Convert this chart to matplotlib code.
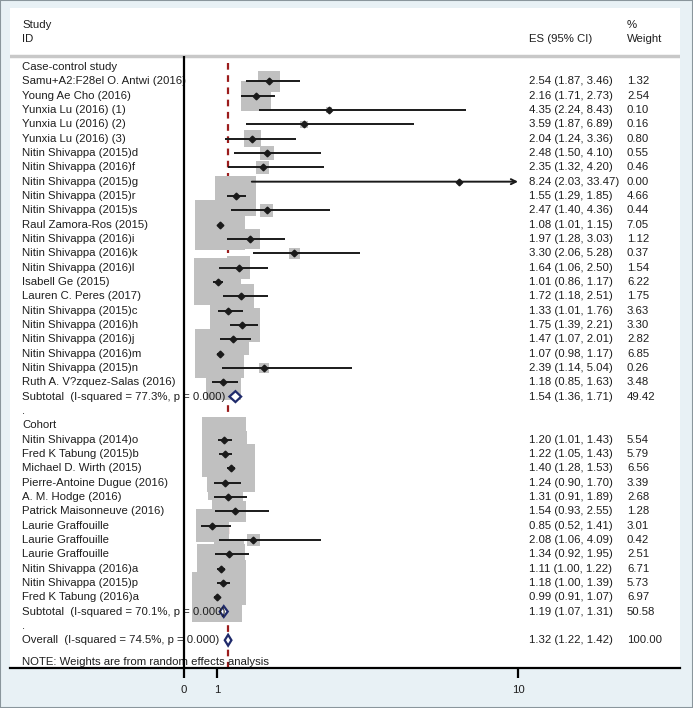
import numpy as np
import matplotlib
matplotlib.use("Agg")
import matplotlib.pyplot as plt
from matplotlib.patches import Rectangle

plt.rcParams['font.family'] = ['Liberation Sans', 'DejaVu Sans']

# case-control studies
cc_names = ["Samu+A2:F28el O. Antwi (2016)", "Young Ae Cho (2016)", "Yunxia Lu (2016) (1)",
            "Yunxia Lu (2016) (2)", "Yunxia Lu (2016) (3)", "Nitin Shivappa (2015)d",
            "Nitin Shivappa (2016)f", "Nitin Shivappa (2015)g", "Nitin Shivappa (2015)r",
            "Nitin Shivappa (2015)s", "Raul Zamora-Ros (2015)", "Nitin Shivappa (2016)i",
            "Nitin Shivappa (2016)k", "Nitin Shivappa (2016)l", "Isabell Ge (2015)",
            "Lauren C. Peres (2017)", "Nitin Shivappa (2015)c", "Nitin Shivappa (2016)h",
            "Nitin Shivappa (2016)j", "Nitin Shivappa (2016)m", "Nitin Shivappa (2015)n",
            "Ruth A. V?zquez-Salas (2016)"]
cc_es = [2.54, 2.16, 4.35, 3.59, 2.04, 2.48, 2.35, 8.24, 1.55, 2.47, 1.08, 1.97, 3.30,
         1.64, 1.01, 1.72, 1.33, 1.75, 1.47, 1.07, 2.39, 1.18]
cc_lo = [1.87, 1.71, 2.24, 1.87, 1.24, 1.50, 1.32, 2.03, 1.29, 1.40, 1.01, 1.28, 2.06,
         1.06, 0.86, 1.18, 1.01, 1.39, 1.07, 0.98, 1.14, 0.85]
cc_hi = [3.46, 2.73, 8.43, 6.89, 3.36, 4.10, 4.20, 33.47, 1.85, 4.36, 1.15, 3.03, 5.28,
         2.50, 1.17, 2.51, 1.76, 2.21, 2.01, 1.17, 5.04, 1.63]
cc_w = [1.32, 2.54, 0.10, 0.16, 0.80, 0.55, 0.46, 0.00, 4.66, 0.44, 7.05, 1.12, 0.37,
        1.54, 6.22, 1.75, 3.63, 3.30, 2.82, 6.85, 0.26, 3.48]

# cohort studies
co_names = ["Nitin Shivappa (2014)o", "Fred K Tabung (2015)b", "Michael D. Wirth (2015)",
            "Pierre-Antoine Dugue (2016)", "A. M. Hodge (2016)", "Patrick Maisonneuve (2016)",
            "Laurie Graffouille", "Laurie Graffouille", "Laurie Graffouille",
            "Nitin Shivappa (2016)a", "Nitin Shivappa (2015)p", "Fred K Tabung (2016)a"]
co_es = [1.20, 1.22, 1.40, 1.24, 1.31, 1.54, 0.85, 2.08, 1.34, 1.11, 1.18, 0.99]
co_lo = [1.01, 1.05, 1.28, 0.90, 0.91, 0.93, 0.52, 1.06, 0.92, 1.00, 1.00, 0.91]
co_hi = [1.43, 1.43, 1.53, 1.70, 1.89, 2.55, 1.41, 4.09, 1.95, 1.22, 1.39, 1.07]
co_w = [5.54, 5.79, 6.56, 3.39, 2.68, 1.28, 3.01, 0.42, 2.51, 6.71, 5.73, 6.97]

# pooled estimates: es, lo, hi, weight
sub_cc = (1.54, 1.36, 1.71, 49.42)
sub_co = (1.19, 1.07, 1.31, 50.58)
overall = (1.32, 1.22, 1.42, 100.00)
sub_cc_label = "Subtotal  (I-squared = 77.3%, p = 0.000)"
sub_co_label = "Subtotal  (I-squared = 70.1%, p = 0.000)"
overall_label = "Overall  (I-squared = 74.5%, p = 0.000)"
xticks = [0, 1, 10]

bg = '#e8f1f5'
txt = '#1e1e1e'
fs = 8.2

fig = plt.figure(figsize=(6.93, 7.08), dpi=100, facecolor=bg)
fig.patches.append(Rectangle((0, 0), 1, 1, transform=fig.transFigure, fill=False,
                             edgecolor='#8a969c', lw=1.5))
ax = fig.add_axes([10 / 693, 40 / 708, 670 / 693, 660 / 708])
ax.set_facecolor('white')
ax.set_xlim(-5.21, 14.85)
ax.set_ylim(41.94, -4.12)

xclip = max(xticks)
lab_x, es_x, w_x = -4.85, 10.33, 13.26

# build the row layout
rows = []
r = 0
rows.append(('head', "Case-control study", r)); r += 1
cc_rows = []
for n in cc_names:
    cc_rows.append(r); r += 1
sub_cc_row = r; r += 1
rows.append(('dot', ".", r)); r += 1
rows.append(('head', "Cohort", r)); r += 1
co_rows = []
for n in co_names:
    co_rows.append(r); r += 1
sub_co_row = r; r += 1
rows.append(('dot', ".", r)); r += 1
overall_row = r

def fmt(e, l, h):
    return f"{e:.2f} ({l:.2f}, {h:.2f})"

# reference lines
ax.vlines(overall[0], -0.3, 41.94, colors='#9b1c1c', lw=1.6,
          linestyles=(0, (3, 2.5)), zorder=1)
ax.axhline(-0.77, color='#c8c8c8', lw=2.5, zorder=1)
ax.vlines(0, -0.77, 41.94, colors='black', lw=1.6, zorder=6)

def draw_studies(names, es, lo, hi, w, rws):
    es = np.array(es); lo = np.array(lo); hi = np.array(hi); w = np.array(w)
    rws = np.array(rws)
    ax.scatter(es, rws, s=183.8 * w, marker='s', color='#c0c0c0', linewidths=0, zorder=2)
    for e, l, h, rr in zip(es, lo, hi, rws):
        if h > xclip:
            ax.annotate('', xy=(xclip, rr), xytext=(l, rr),
                        arrowprops=dict(arrowstyle='->', lw=1.4, color='#1a1a1a',
                                        mutation_scale=9, shrinkA=0, shrinkB=0), zorder=3)
        else:
            ax.plot([l, h], [rr, rr], color='#1a1a1a', lw=1.4, zorder=3,
                    solid_capstyle='butt')
    ax.plot(es, rws, 'D', color='#1a1a1a', ms=3.4, zorder=4)
    for n, e, l, h, ww, rr in zip(names, es, lo, hi, w, rws):
        ax.text(lab_x, rr, n, fontsize=fs, color=txt, va='center', ha='left', zorder=5)
        ax.text(es_x, rr, fmt(e, l, h), fontsize=fs, color=txt, va='center', zorder=5)
        ax.text(w_x, rr, f"{ww:.2f}", fontsize=fs, color=txt, va='center', zorder=5)

draw_studies(cc_names, cc_es, cc_lo, cc_hi, cc_w, cc_rows)
draw_studies(co_names, co_es, co_lo, co_hi, co_w, co_rows)

def draw_pooled(vals, label, rr):
    e, l, h, ww = vals
    hh = 0.38
    ax.fill([l, e, h, e], [rr, rr - hh, rr, rr + hh], facecolor='white',
            edgecolor='#1f2a6b', lw=1.6, zorder=5)
    ax.text(lab_x, rr, label, fontsize=fs, color=txt, va='center', zorder=5)
    ax.text(es_x, rr, fmt(e, l, h), fontsize=fs, color=txt, va='center', zorder=5)
    ax.text(w_x, rr, f"{ww:.2f}", fontsize=fs, color=txt, va='center', zorder=5)

draw_pooled(sub_cc, sub_cc_label, sub_cc_row)
draw_pooled(sub_co, sub_co_label, sub_co_row)
draw_pooled(overall, overall_label, overall_row)

for kind, t, rr in rows:
    ax.text(lab_x, rr, t, fontsize=fs, color=txt, va='center', zorder=5)

ax.text(lab_x, overall_row + 1.5, "NOTE: Weights are from random effects analysis",
        fontsize=fs, color=txt, va='center', zorder=5)

# header
ax.text(lab_x, -2.9, "Study", fontsize=fs, color=txt, va='center')
ax.text(lab_x, -1.95, "ID", fontsize=fs, color=txt, va='center')
ax.text(es_x, -1.95, "ES (95% CI)", fontsize=fs, color=txt, va='center')
ax.text(w_x, -2.9, "%", fontsize=fs, color=txt, va='center')
ax.text(w_x, -1.95, "Weight", fontsize=fs, color=txt, va='center')

for s in ['top', 'left', 'right']:
    ax.spines[s].set_visible(False)
ax.spines['bottom'].set_linewidth(1.6)
ax.set_yticks([])
ax.set_xticks(xticks)
ax.set_xticklabels([str(t) for t in xticks])
ax.tick_params(axis='x', direction='out', length=7, width=1.6, labelsize=fs,
               pad=5, colors='black', labelcolor=txt)

plt.savefig('out.png', dpi=100, facecolor=bg)
